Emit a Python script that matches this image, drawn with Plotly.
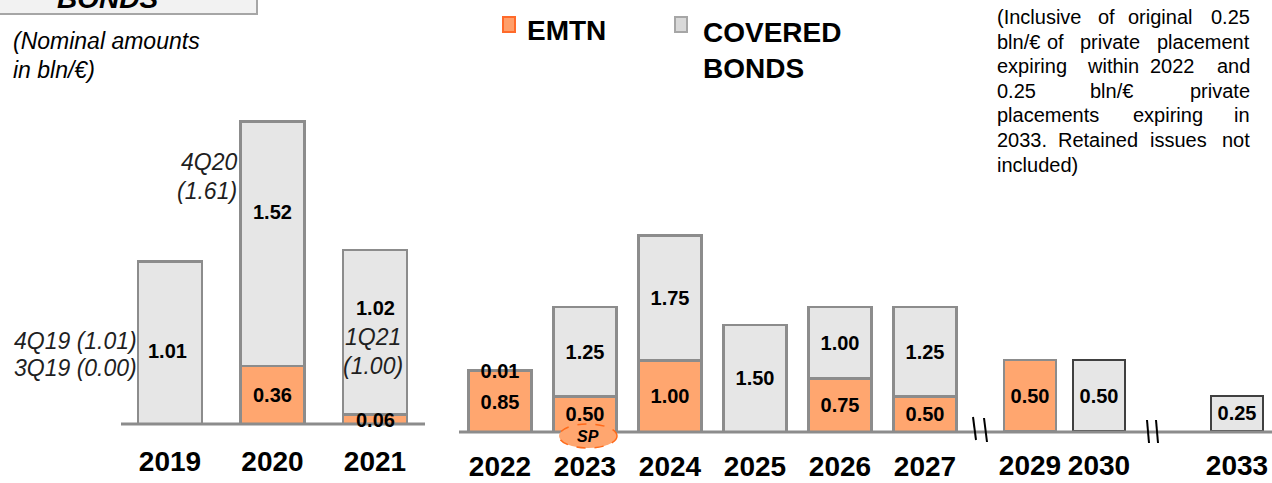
import plotly.graph_objects as go

W, H = 1272, 483


def px(x):
    return x / W


def py(y):
    return 1 - y / H


# ---------------- data ----------------
left_years = ["2019", "2020", "2021"]
left_emtn = [0.00, 0.36, 0.06]
left_covered = [1.01, 1.52, 1.02]

mid_years = ["2022", "2023", "2024", "2025", "2026", "2027"]
mid_emtn = [0.85, 0.50, 1.00, 0.00, 0.75, 0.50]
mid_covered = [0.01, 1.25, 1.75, 1.50, 1.00, 1.25]

far_years = ["2029", "2030", " ", "2033"]
far_emtn = [0.50, None, None, None]
far_covered = [None, 0.50, None, 0.25]

quarter_notes_2019 = ["4Q19 (1.01)", "3Q19 (0.00)"]
quarter_notes_2020 = ["4Q20", "(1.61)"]
quarter_notes_2021 = ["1Q21", "(1.00)"]

note_lines = [
    "(Inclusive of original 0.25",
    "bln/€ of private placement",
    "expiring within 2022 and",
    "0.25 bln/€ private",
    "placements expiring in",
    "2033. Retained issues not",
    "included)",
]

# ---------------- styles ----------------
ORANGE = "#FFA66F"
GRAY = "#E6E6E6"
EDGE = "#8C8C8C"
DARK_EDGE = "#404040"
FONT = "Liberation Sans, Arial, sans-serif"


def fmt(v):
    return f"{v:.2f}" if v else ""


fig = go.Figure()

bar_common = dict(
    textposition="inside",
    insidetextanchor="middle",
    textangle=0,
    cliponaxis=False,
    textfont=dict(family=FONT, size=20, color="black", weight="bold"),
    hoverinfo="skip",
    showlegend=False,
)

# left panel (labels added as annotations so they sit on top)
fig.add_trace(go.Bar(x=left_years, y=left_emtn, width=0.62, xaxis="x", yaxis="y",
                     marker=dict(color=ORANGE, line=dict(color=EDGE, width=2.5)),
                     text=["" for v in left_emtn], **bar_common))
fig.add_trace(go.Bar(x=left_years, y=left_covered, width=0.62, xaxis="x", yaxis="y",
                     marker=dict(color=GRAY, line=dict(color=EDGE, width=2.5)),
                     text=["" for v in left_covered], **bar_common))

# middle panel
fig.add_trace(go.Bar(x=mid_years, y=mid_emtn, width=0.745, xaxis="x2", yaxis="y2",
                     marker=dict(color=ORANGE, line=dict(color=EDGE, width=2.5)),
                     text=[fmt(v) for v in mid_emtn], **bar_common))
fig.add_trace(go.Bar(x=mid_years, y=mid_covered, width=0.745, xaxis="x2", yaxis="y2",
                     marker=dict(color=GRAY, line=dict(color=EDGE, width=2.5)),
                     text=[fmt(v) for v in mid_covered], **bar_common))

# far right panel
fig.add_trace(go.Bar(x=far_years, y=far_emtn, width=0.76, xaxis="x3", yaxis="y3",
                     marker=dict(color=ORANGE, line=dict(color=EDGE, width=2.5)),
                     text=[fmt(v) for v in far_emtn], **bar_common))
fig.add_trace(go.Bar(x=far_years, y=far_covered, width=0.76, xaxis="x3", yaxis="y3",
                     marker=dict(color=GRAY, line=dict(color=DARK_EDGE, width=2)),
                     text=[fmt(v) for v in far_covered], **bar_common))

tickfont = dict(family=FONT, size=28, color="black", weight="bold")
xcommon = dict(type="category", showgrid=False, zeroline=False, showline=False,
               ticks="", tickfont=tickfont, fixedrange=True)
ycommon = dict(visible=False, showgrid=False, zeroline=False, fixedrange=True)

annotations = []
shapes = []


def ann(text, x, y, size=20, xanchor="center", yanchor="middle", italic=False,
        bold=False, color="black", align="left"):
    annotations.append(dict(
        text=text, x=px(x), y=py(y), xref="paper", yref="paper",
        xanchor=xanchor, yanchor=yanchor, showarrow=False, align=align,
        font=dict(family=FONT, size=size, color=color,
                  style="italic" if italic else "normal",
                  weight="bold" if bold else "normal"),
    ))


# title box (cut at top)
shapes.append(dict(type="rect", xref="paper", yref="paper",
                   x0=px(-3), x1=px(257), y0=py(14), y1=py(-3),
                   fillcolor="#F2F2F2", line=dict(color="#A6A6A6", width=2), layer="below"))
ann("BONDS", 107, -1, size=28, italic=True, bold=True)

ann("(Nominal amounts", 11, 41, size=23, xanchor="left", italic=True)
ann("in bln/€)", 11, 70, size=23, xanchor="left", italic=True)

# legend
shapes.append(dict(type="rect", xref="paper", yref="paper",
                   x0=px(503), x1=px(515), y0=py(32), y1=py(17),
                   fillcolor="#FF9F6A", line=dict(color="#FF6A2A", width=2)))
shapes.append(dict(type="rect", xref="paper", yref="paper",
                   x0=px(675), x1=px(687), y0=py(32), y1=py(17),
                   fillcolor="#D9D9D9", line=dict(color="#A6A6A6", width=2)))
ann("EMTN", 525, 30, size=28, xanchor="left", bold=True)
ann("COVERED<br>BONDS", 701, 50, size=28, xanchor="left", bold=True)

# quarter notes (italic)
NOTE_C = "#1f1f1f"
ann(quarter_notes_2019[0], 139, 341, size=23, xanchor="right", italic=True, color=NOTE_C)
ann(quarter_notes_2019[1], 139, 368, size=23, xanchor="right", italic=True, color=NOTE_C)
ann(quarter_notes_2020[0], 239, 162, size=23, xanchor="right", italic=True, color=NOTE_C)
ann(quarter_notes_2020[1], 239, 191, size=23, xanchor="right", italic=True, color=NOTE_C)
ann(quarter_notes_2021[0], 373, 337, size=23, italic=True, color=NOTE_C)
ann(quarter_notes_2021[1], 373, 366, size=23, italic=True, color=NOTE_C)

# left-panel value labels (placed as in the reference)
ann(fmt(left_covered[0]), 167, 351, size=20, bold=True)
ann(fmt(left_covered[1]), 272, 212, size=20, bold=True)
ann(fmt(left_covered[2]), 375, 308, size=20, bold=True)
ann(fmt(left_emtn[1]), 272, 395, size=20, bold=True)
ann(fmt(left_emtn[2]), 375, 420, size=20, bold=True)

# justified note (top right)
word_starts = [
    [997, 1098, 1128, 1203],
    [997, 1047, 1080, 1155],
    [997, 1087, 1150, 1217],
    [997, 1090, 1188],
    [997, 1133, 1235],
    [997, 1058, 1150, 1217],
    [997],
]
for i, line in enumerate(note_lines):
    words = line.split(" ")
    yline = 17 + 24.6 * i
    for j, w in enumerate(words):
        if j == len(words) - 1 and j > 0:
            ann(w, 1252, yline, size=20, xanchor="right")
        else:
            ann(w, word_starts[i][j] - 2, yline, size=20, xanchor="left")

# baselines
shapes.append(dict(type="line", xref="paper", yref="paper",
                   x0=px(121), x1=px(425), y0=py(424), y1=py(424),
                   line=dict(color=EDGE, width=3)))
shapes.append(dict(type="line", xref="paper", yref="paper",
                   x0=px(459), x1=px(1272), y0=py(432), y1=py(432),
                   line=dict(color=EDGE, width=3)))

# axis break marks
for (xa, ya, xb, yb) in [(973, 417, 976, 440), (984, 418, 987, 442),
                         (1147, 420, 1149, 443), (1156, 420, 1158, 443)]:
    shapes.append(dict(type="line", xref="paper", yref="paper",
                       x0=px(xa), y0=py(ya), x1=px(xb), y1=py(yb),
                       line=dict(color="black", width=2)))

# SP ellipse
shapes.append(dict(type="circle", xref="paper", yref="paper",
                   x0=px(559), x1=px(617), y0=py(448), y1=py(424),
                   fillcolor=ORANGE, line=dict(color="#FF6A1A", width=1.5, dash="dash")))
ann("SP", 588, 436, size=16, italic=True, bold=True)

fig.update_layout(
    width=W, height=H,
    margin=dict(l=0, r=0, t=0, b=0),
    paper_bgcolor="white", plot_bgcolor="white",
    barmode="stack",
    showlegend=False,
    uniformtext=dict(minsize=20, mode="show"),
    xaxis=dict(domain=[px(118.75), px(426.25)], anchor="y", range=[-0.5, 2.5],
               ticklabelstandoff=18, **xcommon),
    yaxis=dict(domain=[py(424), py(100)], anchor="x", range=[0, (424 - 100) / 161], **ycommon),
    xaxis2=dict(domain=[px(457.5), px(967.5)], anchor="y2", range=[-0.5, 5.5],
                ticklabelstandoff=15, **xcommon),
    yaxis2=dict(domain=[py(432), py(100)], anchor="x2", range=[0, (432 - 100) / 71.5], **ycommon),
    xaxis3=dict(domain=[px(995.5), px(1271.5)], anchor="y3", range=[-0.5, 3.5],
                ticklabelstandoff=15, **xcommon),
    yaxis3=dict(domain=[py(431), py(100)], anchor="x3", range=[0, (431 - 100) / 142], **ycommon),
    annotations=annotations,
    shapes=shapes,
)

fig.write_html("out.html", config={"displayModeBar": False},
               post_script="document.body.style.margin='0';")
